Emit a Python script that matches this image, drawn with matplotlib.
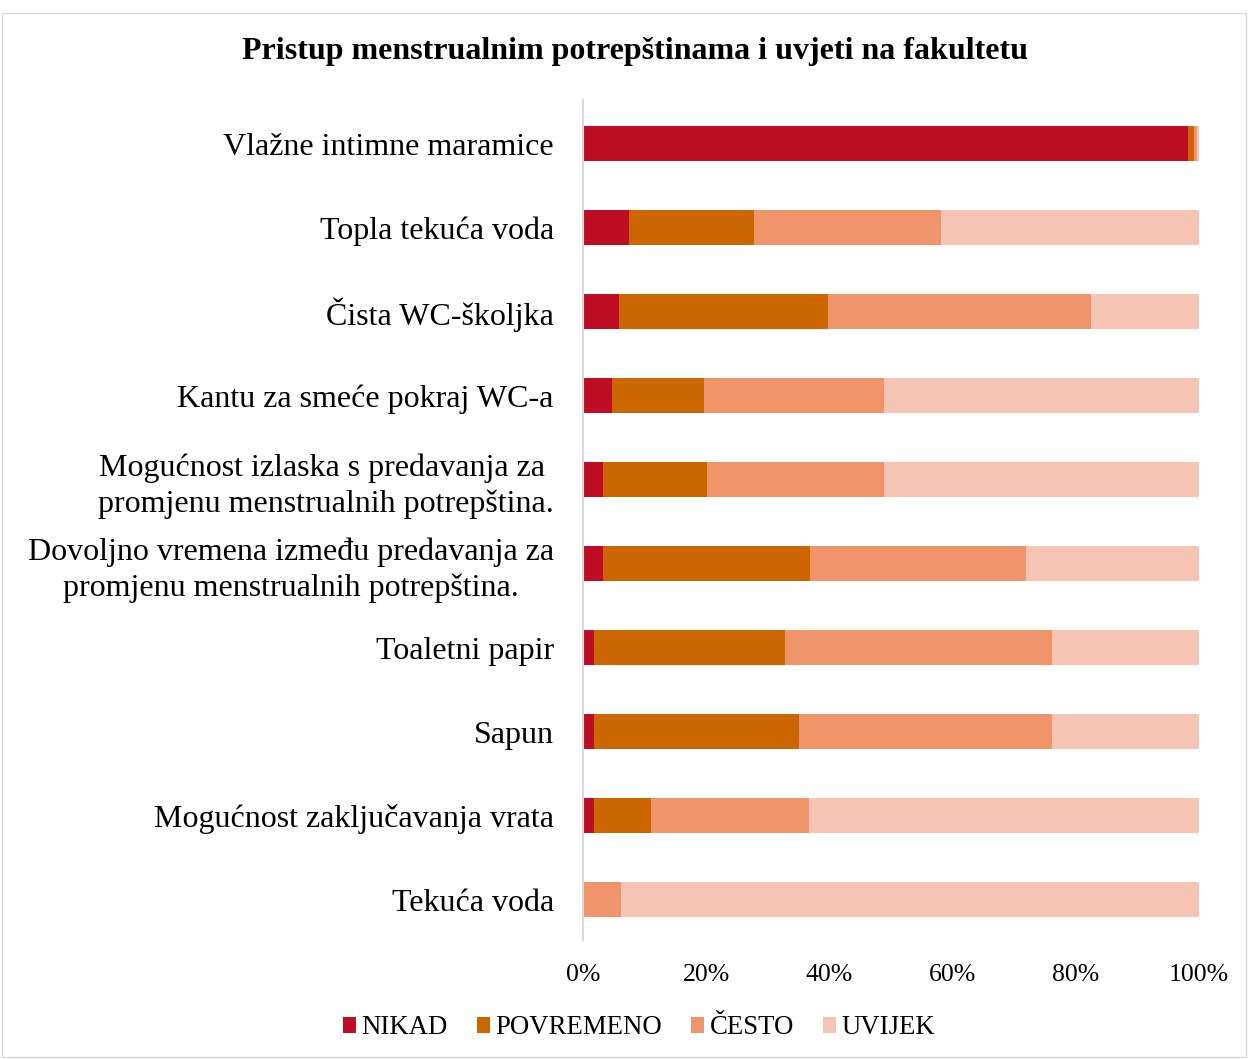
import numpy as np
import matplotlib.pyplot as plt

plt.rcParams['font.family'] = ['Liberation Serif', 'DejaVu Serif']

categories = [
    "Vlažne intimne maramice",
    "Topla tekuća voda",
    "Čista WC-školjka",
    "Kantu za smeće pokraj WC-a",
    "Mogućnost izlaska s predavanja za \npromjenu menstrualnih potrepština.",
    "Dovoljno vremena između predavanja za\npromjenu menstrualnih potrepština.",
    "Toaletni papir",
    "Sapun",
    "Mogućnost zaključavanja vrata",
    "Tekuća voda",
]
nikad = [98.2, 7.5, 5.8, 4.7, 3.2, 3.2, 1.8, 1.8, 1.8, 0.0]
povremeno = [1.0, 20.3, 34.0, 14.9, 16.9, 33.7, 31.0, 33.3, 9.2, 0.2]
cesto = [0.4, 30.3, 42.7, 29.3, 28.8, 35.0, 43.3, 41.0, 25.7, 6.0]
uvijek = [0.4, 41.9, 17.5, 51.1, 51.1, 28.1, 23.9, 23.9, 63.3, 93.8]

series = [("NIKAD", nikad, "#C00D26"),
          ("POVREMENO", povremeno, "#CC6600"),
          ("ČESTO", cesto, "#F0956A"),
          ("UVIJEK", uvijek, "#F6C4B4")]

fig = plt.figure(figsize=(12.48, 10.59), dpi=100)
ax = fig.add_axes([583 / 1248, 1 - 940 / 1059, 616 / 1248, 840 / 1059])

y = np.arange(len(categories))
left = np.zeros(len(categories))
for name, vals, col in series:
    v = np.array(vals) / 100
    ax.barh(y, v, left=left, height=0.42, color=col, label=name)
    left += v

ax.set_ylim(len(categories) - 0.52, -0.52)
ax.set_xlim(0, 1)
ax.set_yticks(y)
ax.set_yticklabels(categories, fontsize=23, ha='right', ma='center', linespacing=1.3)
ax.set_xticks(np.linspace(0, 1, 6))
ax.set_xticklabels([f"{int(t)}%" for t in np.linspace(0, 100, 6)], fontsize=18.5)
ax.tick_params(axis='y', length=0, pad=21)
ax.tick_params(axis='x', length=0, pad=17)
for s in ['top', 'right', 'bottom']:
    ax.spines[s].set_visible(False)
ax.spines['left'].set_color('#d9d9d9')
ax.spines['left'].set_linewidth(1.5)

fig.text(0.509, 1 - 51 / 1059, "Pristup menstrualnim potrepštinama i uvjeti na fakultetu",
         ha='center', va='center', fontsize=23, fontweight='bold')

fig.legend(loc='center', bbox_to_anchor=(0.512, 1 - 1028 / 1059), ncol=4, frameon=False,
           fontsize=19.3, handlelength=0.5, handleheight=0.5, handletextpad=0.2,
           columnspacing=1.07)

fig.patches.append(plt.Rectangle((0.002, 0.002), 0.996, 0.986, transform=fig.transFigure,
                                 fill=False, edgecolor='#d9d9d9', linewidth=1))

fig.savefig("out.png", dpi=100)
